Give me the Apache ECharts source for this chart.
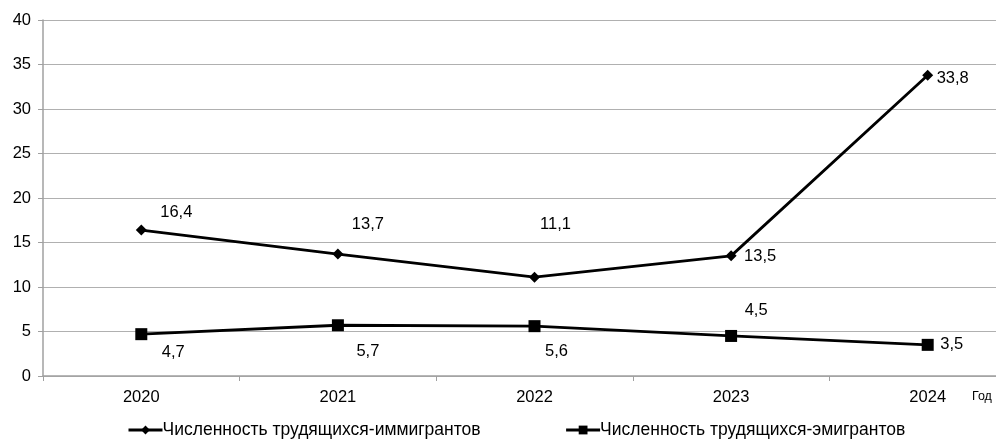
<!DOCTYPE html>
<html><head><meta charset="utf-8">
<script src="https://cdn.jsdelivr.net/npm/echarts@6/dist/echarts.min.js"></script>
<style>html,body{margin:0;padding:0;background:#fff}#c{width:996px;height:444px}</style>
</head><body><div id="c"></div>
<script>
const categories = ['2020','2021','2022','2023','2024'];
const immigrants = [16.4, 13.7, 11.1, 13.5, 33.8];
const emigrants = [4.7, 5.7, 5.6, 4.5, 3.5];
const yTicks = [0,5,10,15,20,25,30,35,40];
const seriesNames = ['Численность трудящихся-иммигрантов','Численность трудящихся-эмигрантов'];
const axisName = 'Год';

const immOffsets = [[35,-18],[30,-30],[21,-53],[29,1],[25,3]];
const emiOffsets = [[32,18],[30,26],[22,25],[25,-25],[24,0]];

function mk(vals, offs){
  return vals.map((v,i)=>({value:v,label:{offset:offs[i]}}));
}
const fmt = p => String(p.value).replace('.', ',');
const chart = echarts.init(document.getElementById('c'));
chart.setOption({
  animation:false,
  textStyle:{fontFamily:'Liberation Sans, Arial, sans-serif'},
  grid:{left:43, top:20, width:983, height:356, outerBoundsMode:'none', containLabel:false},
  xAxis:{type:'category', data:categories, boundaryGap:true,
    axisLine:{lineStyle:{color:'#a0a0a0', width:1.5}},
    axisTick:{show:true, length:5, lineStyle:{color:'#a0a0a0'}},
    axisLabel:{color:'#000', fontSize:16.5, margin:13}},
  yAxis:{type:'value', min:0, max:40, interval:5,
    axisLine:{show:true, lineStyle:{color:'#a0a0a0', width:1.5}},
    axisTick:{show:true, length:5, lineStyle:{color:'#a0a0a0'}},
    splitLine:{lineStyle:{color:'#b0b0b0', width:1.2}},
    axisLabel:{color:'#000', fontSize:16.5, margin:12}},
  legend:{bottom:0, left:122, itemWidth:34, itemHeight:11, itemGap:84,
    lineStyle:{width:3},
    textStyle:{color:'#000', fontSize:17.5, padding:[0,0,0,-5]},
    data:seriesNames},
  graphic:[{type:'text', left:972, top:390, style:{text:axisName, fill:'#000', font:'12.5px Liberation Sans, Arial, sans-serif'}}],
  series:[
    {name:seriesNames[0], type:'line', data:mk(immigrants, immOffsets), symbol:'diamond', symbolSize:11,
     lineStyle:{color:'#000', width:2.8}, itemStyle:{color:'#000'},
     label:{show:true, position:'inside', color:'#000', fontSize:16.5, formatter:fmt}},
    {name:seriesNames[1], type:'line', data:mk(emigrants, emiOffsets), symbol:'rect', symbolSize:12,
     lineStyle:{color:'#000', width:2.8}, itemStyle:{color:'#000'},
     label:{show:true, position:'inside', color:'#000', fontSize:16.5, formatter:fmt}}
  ]
});
</script></body></html>
